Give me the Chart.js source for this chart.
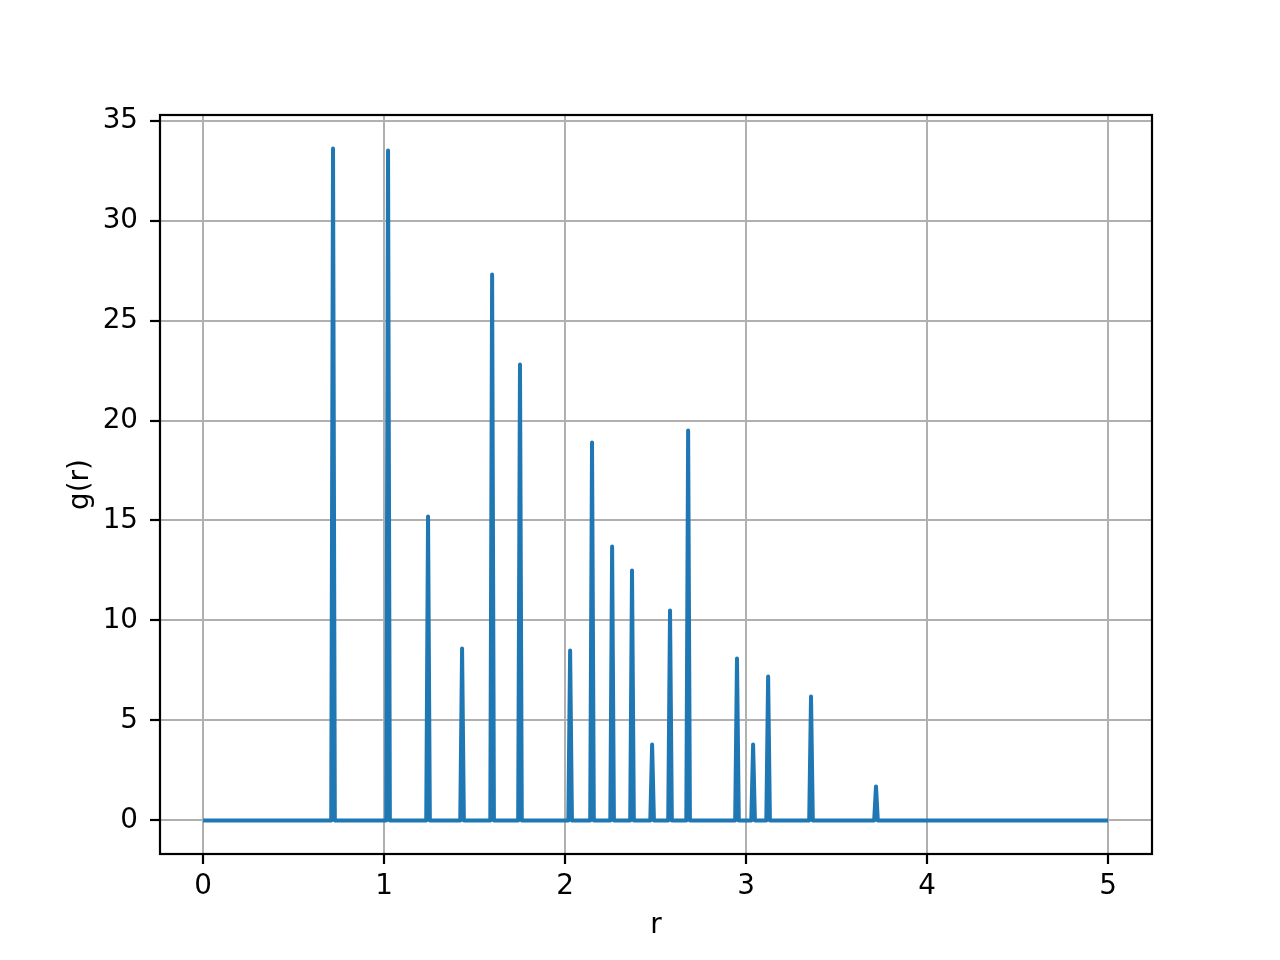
<!DOCTYPE html>
<html>
<head>
<meta charset="utf-8">
<script src="https://cdn.jsdelivr.net/npm/chart.js@4/dist/chart.umd.min.js"></script>
<style>
  html, body { margin: 0; padding: 0; background: #fff; }
  #wrap { width: 1280px; height: 960px; }
</style>
</head>
<body>
<div id="wrap"><canvas id="chart1" width="1280" height="960"></canvas></div>
<script>
// Data
// ========================================================================
var peakR = [0.718, 1.022, 1.243, 1.431, 1.597, 1.751, 2.028, 2.149, 2.260, 2.370, 2.481, 2.580, 2.680, 2.950, 3.039, 3.122, 3.359, 3.718];
var peakG = [33.6, 33.5, 15.2, 8.6, 27.3, 22.8, 8.5, 18.9, 13.7, 12.5, 3.8, 10.5, 19.5, 8.1, 3.8, 7.2, 6.2, 1.7];
var rStart = 0;
var rEnd = 5;
var peakHalfWidth = 0.01;
var xTicks = [0, 1, 2, 3, 4, 5];
var yTicks = [0, 5, 10, 15, 20, 25, 30, 35];

// Build the g(r) curve: flat at zero with a narrow spike at each peak
var points = [{x: rStart, y: 0}];
peakR.forEach(function (r, i) {
  points.push({x: r - peakHalfWidth, y: 0});
  points.push({x: r, y: peakG[i]});
  points.push({x: r + peakHalfWidth, y: 0});
});
points.push({x: rEnd, y: 0});

var fontSpec = {family: "'DejaVu Sans', sans-serif", size: 27.8};

// Frame around the plot area (all four spines)
var framePlugin = {
  id: 'frame',
  afterDraw: function (chart) {
    var a = chart.chartArea, ctx = chart.ctx;
    ctx.save();
    ctx.strokeStyle = '#000';
    ctx.lineWidth = 2.2;
    ctx.strokeRect(a.left, a.top, a.right - a.left, a.bottom - a.top);
    ctx.restore();
  }
};

Chart.defaults.font = fontSpec;
Chart.defaults.color = '#000';

new Chart(document.getElementById('chart1'), {
  type: 'line',
  data: {
    datasets: [{
      label: 'g(r)',
      data: points,
      borderColor: '#1f77b4',
      borderWidth: 4,
      borderJoinStyle: 'round',
      pointRadius: 0,
      fill: false,
      tension: 0
    }]
  },
  options: {
    responsive: false,
    animation: false,
    events: [],
    layout: {padding: {top: 115, right: 128, left: 0, bottom: 0}},
    plugins: {legend: {display: false}, tooltip: {enabled: false}},
    scales: {
      x: {
        type: 'linear',
        min: -0.238,
        max: 5.243,
        afterBuildTicks: function (s) { s.ticks = xTicks.map(function (v) { return {value: v}; }); },
        afterFit: function (s) { s.height = 106; },
        grid: {color: '#b0b0b0', lineWidth: 2, tickColor: '#000', tickWidth: 2.2, tickLength: 10},
        border: {display: false},
        ticks: {padding: 6, maxRotation: 0, font: fontSpec, color: '#000'},
        title: {display: true, text: 'r', font: fontSpec, color: '#000', padding: {top: 0, bottom: 18}}
      },
      y: {
        type: 'linear',
        min: -1.68,
        max: 35.28,
        afterBuildTicks: function (s) { s.ticks = yTicks.map(function (v) { return {value: v}; }); },
        afterFit: function (s) { s.width = 160; },
        grid: {color: '#b0b0b0', lineWidth: 2, tickColor: '#000', tickWidth: 2.2, tickLength: 10},
        border: {display: false},
        ticks: {padding: 12, font: fontSpec, color: '#000'},
        title: {display: true, text: 'g(r)', font: fontSpec, color: '#000', padding: {top: 64, bottom: 0}}
      }
    }
  },
  plugins: [framePlugin]
});
</script>
</body>
</html>
